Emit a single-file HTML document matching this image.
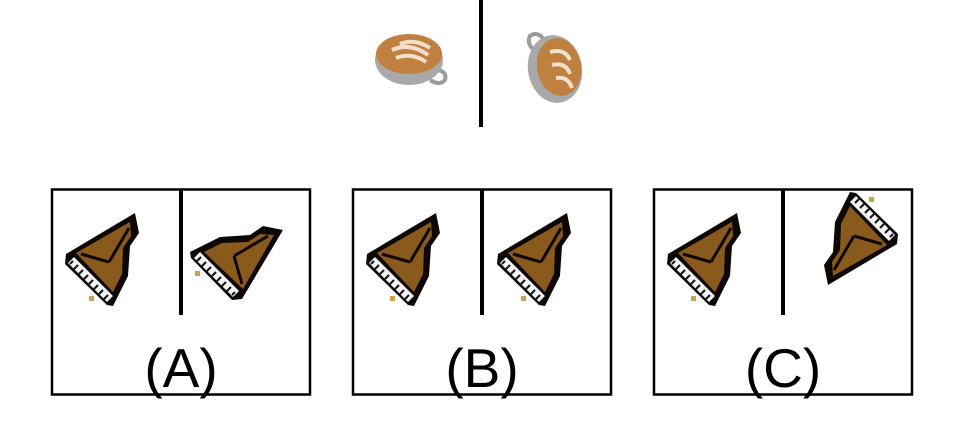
<!DOCTYPE html>
<html><head><meta charset="utf-8"><style>
html,body{margin:0;padding:0;background:#fff;width:963px;height:446px;overflow:hidden}
svg{display:block}
text{font-family:"Liberation Sans",sans-serif}
</style></head><body>
<svg width="963" height="446" viewBox="0 0 963 446">
<defs>
<g id="piano">
  <polygon points="-37,-6 32,-47 36,-27 27,-14 25,16 10,46 4,45 -38,4" fill="#0d0805"/>
  <polygon points="-27,-7 27,-38 28,-24 20,-12 19,14 10,32" fill="#8a5a1c"/>
  <line x1="-22" y1="-6" x2="6" y2="2" stroke="#0d0805" stroke-width="3"/>
  <line x1="6" y1="2" x2="26" y2="-32" stroke="#0d0805" stroke-width="3"/>
  <polygon points="-35,3 -29,-3 10,36 4,42" fill="#f2f2f2"/>
  <g stroke="#111" stroke-width="2">
   <line x1="-30" y1="1" x2="-33" y2="4"/><line x1="-25" y1="5" x2="-29" y2="9"/>
   <line x1="-20" y1="10" x2="-24" y2="14"/><line x1="-15" y1="15" x2="-19" y2="19"/>
   <line x1="-10" y1="20" x2="-14" y2="24"/><line x1="-5" y1="25" x2="-9" y2="29"/>
   <line x1="0" y1="30" x2="-4" y2="34"/><line x1="5" y1="35" x2="1" y2="39"/>
  </g>
  <rect x="-14" y="36" width="5" height="5" fill="#c9a24a"/>
</g>
</defs>
<rect x="0" y="0" width="963" height="446" fill="#fff"/>
<rect x="479" y="0" width="4" height="127" fill="#000"/>
<g>
  <path d="M428,70 Q448,68 445,80 Q440,86 430,80" fill="none" stroke="#9a9a9a" stroke-width="4"/>
  <ellipse cx="409" cy="60" rx="34" ry="25" fill="#a9a9a9"/>
  <ellipse cx="409" cy="54" rx="33" ry="20" fill="#c08040"/>
  <path d="M392,50 Q410,42 428,55 M396,58 Q412,52 426,62 M400,44 Q415,38 430,48" stroke="#f0e0cc" stroke-width="4" fill="none"/>
</g>
<g>
  <path d="M540,55 Q525,45 530,36 Q538,30 546,42" fill="none" stroke="#9a9a9a" stroke-width="4"/>
  <ellipse cx="555" cy="69" rx="27" ry="34" fill="#a9a9a9" transform="rotate(-10 555 69)"/>
  <ellipse cx="559" cy="67" rx="22" ry="29" fill="#c08040" transform="rotate(-10 559 67)"/>
  <path d="M550,52 Q565,48 570,60 M552,65 Q566,62 570,74 M556,78 Q568,76 572,88" stroke="#f0e0cc" stroke-width="4" fill="none"/>
</g>
<g>
  <rect x="52" y="189.5" width="258" height="205" fill="none" stroke="#000" stroke-width="2.5"/>
  <rect x="179" y="189" width="4" height="126" fill="#000"/>
  <use href="#piano" transform="translate(103,260)"/>
  <use href="#piano" transform="translate(236,262) matrix(0,-1,-1,0,0,0)"/>
  <text x="181" y="387" font-size="55" text-anchor="middle">(A)</text>
</g>
<g>
  <rect x="353" y="189.5" width="258" height="205" fill="none" stroke="#000" stroke-width="2.5"/>
  <rect x="480" y="189" width="4" height="126" fill="#000"/>
  <use href="#piano" transform="translate(404,260)"/>
  <use href="#piano" transform="translate(535,260)"/>
  <text x="482" y="387" font-size="55" text-anchor="middle">(B)</text>
</g>
<g>
  <rect x="654" y="189.5" width="258" height="205" fill="none" stroke="#000" stroke-width="2.5"/>
  <rect x="781" y="189" width="4" height="126" fill="#000"/>
  <use href="#piano" transform="translate(705,260)"/>
  <use href="#piano" transform="translate(860,238) rotate(180)"/>
  <text x="783" y="387" font-size="55" text-anchor="middle">(C)</text>
</g>
</svg>
</body></html>
